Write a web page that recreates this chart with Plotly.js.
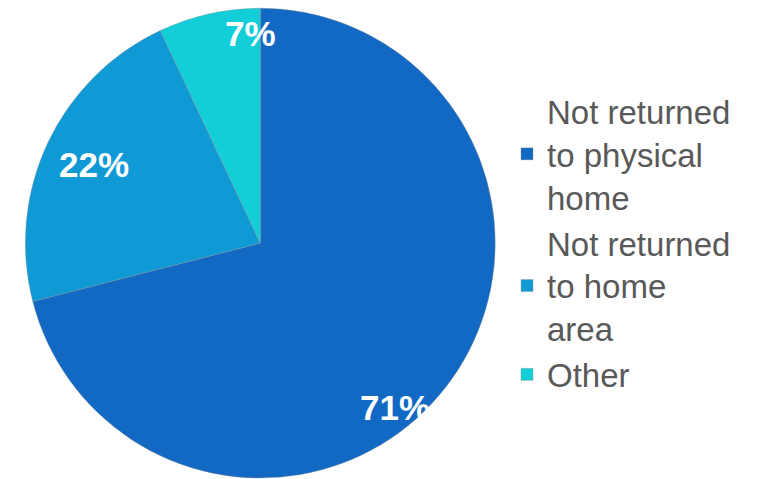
<!DOCTYPE html>
<html><head><meta charset="utf-8">
<script src="https://cdn.plot.ly/plotly-3.0.1.min.js"></script>
<style>html,body{margin:0;padding:0;background:#fff;}#chart{width:777px;height:479px;}</style>
</head><body><div id="chart"></div>
<script>
var labels = ["Not returned<br>to physical<br>home", "Not returned<br>to home<br>area", "Other"];
var values = [71, 22, 7];
var colors = ["#1269C3", "#0F9AD5", "#12CED8"];

// label placement style (radial fraction of radius, angular nudge in degrees)
var labelRadius = [0.91, 0.78, 0.89];
var labelAngleShift = [13, 0, 10];

var W = 777, H = 479;
var domX = [0.032, 0.638], domY = [0.002, 0.983];

var trace = {
  type: "pie",
  labels: labels,
  values: values,
  sort: false,
  direction: "clockwise",
  rotation: 0,
  marker: {colors: colors, line: {color: "rgba(140,140,140,0.6)", width: 0.6}},
  textinfo: "none",
  domain: {x: domX, y: domY},
  hoverinfo: "none"
};

// percentage labels computed from the data
var total = values.reduce(function (a, b) { return a + b; }, 0);
var cx = (domX[0] + domX[1]) / 2 * W;
var cy = (1 - (domY[0] + domY[1]) / 2) * H;
var R = Math.min((domX[1] - domX[0]) * W, (domY[1] - domY[0]) * H) / 2;
var annotations = [];
var cum = 0;
for (var i = 0; i < values.length; i++) {
  var mid = (cum + values[i] / 2) / total * 360 + labelAngleShift[i];
  cum += values[i];
  var a = mid * Math.PI / 180;
  var px = cx + labelRadius[i] * R * Math.sin(a);
  var py = cy - labelRadius[i] * R * Math.cos(a);
  annotations.push({
    xref: "paper", yref: "paper",
    x: px / W, y: 1 - py / H,
    xanchor: "center", yanchor: "middle",
    text: Math.round(values[i] / total * 100) + "%",
    showarrow: false,
    yshift: 1,
    font: {family: "Liberation Sans, Arial, sans-serif", size: 35, color: "#ffffff", weight: "bold"}
  });
}

var layout = {
  width: W, height: H,
  margin: {l: 0, r: 0, t: 0, b: 0},
  paper_bgcolor: "#ffffff",
  showlegend: true,
  annotations: annotations,
  legend: {
    x: 0.6525, y: 0.4927, xanchor: "left", yanchor: "middle",
    font: {family: "Liberation Sans, Arial, sans-serif", size: 33, color: "#595959"},
    itemwidth: 30, tracegroupgap: 0, valign: "middle"
  }
};

Plotly.newPlot("chart", [trace], layout, {displayModeBar: false, staticPlot: true});
</script></body></html>
